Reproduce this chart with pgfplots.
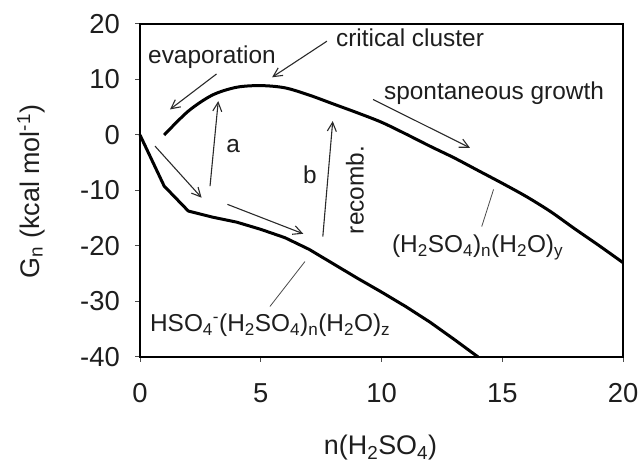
\documentclass[border=0pt]{standalone}
\usepackage{pgfplots}
\pgfplotsset{compat=1.18}
\usepackage{fontspec}
\setmainfont{Liberation Sans}
\usetikzlibrary{arrows.meta}

\definecolor{txt}{HTML}{1E1E1E}
\definecolor{arr}{HTML}{2A2A2A}
\definecolor{lead}{HTML}{4A4A4A}

\newcommand{\sub}[1]{\textsubscript{#1}}
\newcommand{\sups}[1]{\textsuperscript{#1}}

% Neutral clusters (H2SO4)n(H2O)y
\pgfplotstableread{
n   G
1   0
2   4.3
3   7.2
4   8.6
5   8.9
6   8.5
7   7.2
8   5.6
9   4.0
10  2.3
11  0.2
12  -2.0
13  -4.1
14  -6.4
15  -8.7
16  -11.1
17  -13.8
18  -16.9
19  -19.9
20  -23.0
}\neutral

% Ion clusters HSO4-(H2SO4)n(H2O)z
\pgfplotstableread{
n   G
0   0
1   -9.2
2   -13.7
3   -14.8
4   -15.7
5   -17.0
6   -18.5
7   -20.6
8   -23.2
9   -25.8
10  -28.3
11  -30.9
12  -33.7
13  -36.8
14  -40.0
}\ion

\begin{document}
\begin{tikzpicture}[x=1bp,y=1bp]
\useasboundingbox (0,0) rectangle (642,464);
\begin{axis}[
  at={(140bp,107bp)}, anchor=south west,
  scale only axis, width=483bp, height=333bp,
  xmin=0, xmax=20, ymin=-40, ymax=20,
  xtick={0,5,10,15,20}, ytick={-40,-30,-20,-10,0,10,20},
  xticklabels={0,5,10,15,20},
  yticklabels={-40,-30,-20,-10,0,10,20},
  tick align=outside, tick pos=left,
  major tick length=5bp,
  axis line style={line width=1.6bp, black},
  tick style={line width=1bp, black!70},
  ticklabel style={font=\fontsize{27.5}{30}\selectfont, text=txt, inner sep=0pt},
  xticklabel style={anchor=north, yshift=-21bp},
  yticklabel style={anchor=east, xshift=-15bp},
  clip=false,
]
\addplot[black, line width=3bp, line join=round, smooth, tension=0.5] table[x=n,y=G] {\neutral};
\addplot[black, line width=3bp, line join=round] table[x=n,y=G] {\ion};

% arrows
\begin{scope}[arr, line width=1.1bp, -{Straight Barb[length=9bp,width=9bp]}]
\draw (axis cs:3.17,11.0) -- (axis cs:1.24,4.6);
\draw (axis cs:7.74,16.9) -- (axis cs:5.47,10.4);
\draw (axis cs:9.65,6.4) -- (axis cs:13.66,-2.3);
\draw (axis cs:2.90,-9.2) -- (axis cs:3.24,6.1);
\draw (axis cs:7.57,-18.3) -- (axis cs:7.98,2.5);
\draw (axis cs:0.62,-2.0) -- (axis cs:2.55,-11.3);
\draw (axis cs:3.62,-12.5) -- (axis cs:6.76,-17.8);
\end{scope}

% leader lines to series labels
\draw[lead, line width=0.8bp] (axis cs:6.83,-22.8) -- (axis cs:5.38,-30.9);
\draw[lead, line width=0.8bp] (axis cs:14.64,-9.8) -- (axis cs:14.15,-16.5);

\begin{scope}[every node/.style={text=txt, inner sep=0pt, font=\fontsize{24.5}{28}\selectfont}]
\node[anchor=base] at (axis cs:2.98,12.8) {evaporation};
\node[anchor=base] at (axis cs:11.18,15.9) {critical cluster};
\node[anchor=base] at (axis cs:14.66,6.4) {spontaneous growth};
\node at (axis cs:3.86,-2.0) {a};
\node at (axis cs:7.04,-7.1) {b};
\node[rotate=90] at (axis cs:8.9,-9.9) {recomb.};
\node[anchor=base west] at (axis cs:0.41,-35.4) {HSO\sub{4}\sups{-}(H\sub{2}SO\sub{4})\sub{n}(H\sub{2}O)\sub{z}};
\node[anchor=base west] at (axis cs:10.43,-21.2) {(H\sub{2}SO\sub{4})\sub{n}(H\sub{2}O)\sub{y}};
\end{scope}
\end{axis}

% axis titles
\node[anchor=base, text=txt, inner sep=0pt, font=\fontsize{27}{30}\selectfont] at (380.5,9) {n(H\sub{2}SO\sub{4})};
\node[anchor=base, rotate=90, text=txt, inner sep=0pt, font=\fontsize{27}{30}\selectfont] at (39,272.5) {G\sub{n} (kcal mol\sups{-1})};
\end{tikzpicture}
\end{document}
